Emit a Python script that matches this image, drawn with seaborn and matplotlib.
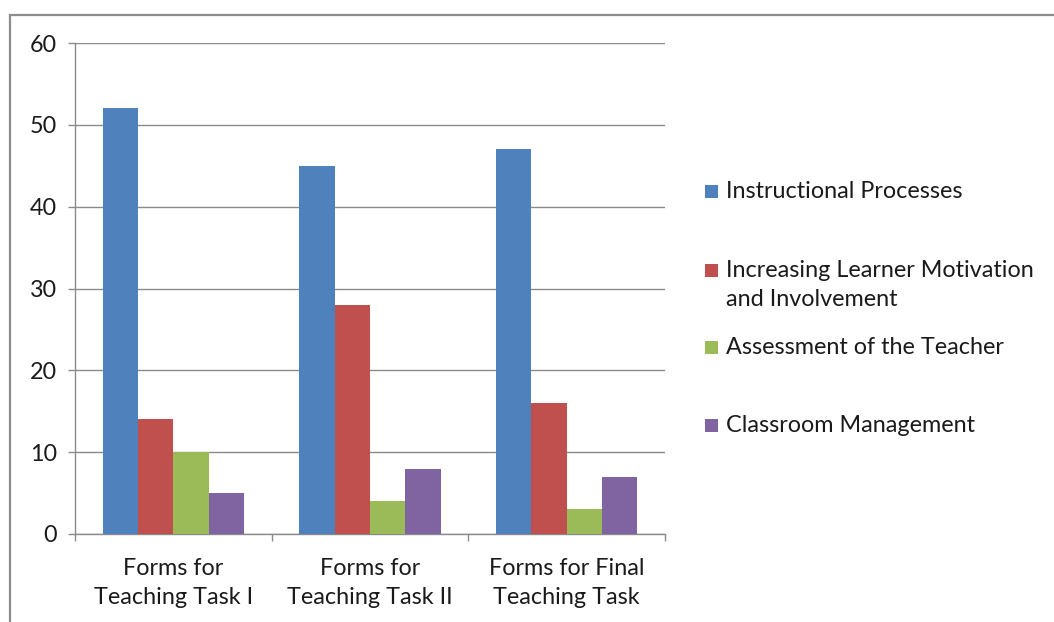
import matplotlib
matplotlib.use("Agg")
import matplotlib.pyplot as plt
from matplotlib.patches import Rectangle
import seaborn as sns
import pandas as pd

# Chart values
categories = ["Forms for\nTeaching Task I", "Forms for\nTeaching Task II", "Forms for Final\nTeaching Task"]
series = ["Instructional Processes",
          "Increasing Learner Motivation\nand Involvement",
          "Assessment of the Teacher",
          "Classroom Management"]
instructional = [52, 45, 47]
motivation = [14, 28, 16]
assessment = [10, 4, 3]
classroom = [5, 8, 7]
y_ticks = [0, 10, 20, 30, 40, 50, 60]

colors = ["#4F81BD", "#C0504D", "#9BBB59", "#8064A2"]

rows = []
for s, vals in zip(series, [instructional, motivation, assessment, classroom]):
    for c, v in zip(categories, vals):
        rows.append({"category": c, "series": s, "value": v})
df = pd.DataFrame(rows)

sns.set_theme(style="white")
plt.rcParams["font.family"] = ["Lato", "DejaVu Sans"]
text_color = "#1a1a1a"
line_color = "#8a8a8a"
fs = 16.8
ls = 1.52

W, H = 1054, 622
fig = plt.figure(figsize=(W / 100, H / 100), dpi=100)
fig.patch.set_facecolor("white")

# outer chart-area frame (left and top edges visible)
fig.patches.append(Rectangle((10 / W, -0.1), 1.2, (H - 15) / H + 0.1,
                             transform=fig.transFigure, fill=False,
                             edgecolor="#8c8c8c", linewidth=1.6, zorder=0))

ax = fig.add_axes([75 / W, (H - 534) / H, (665 - 75) / W, (534 - 43) / H])
sns.barplot(data=df, x="category", y="value", hue="series", order=categories,
            hue_order=series, palette=colors, width=0.72, gap=0,
            linewidth=0, saturation=1, legend=False, ax=ax, zorder=3)

ax.set_xlim(-0.5, 2.5)
ax.set_ylim(0, 60)
ax.set_yticks(y_ticks)
ax.set_yticklabels([str(t) for t in y_ticks])
ax.set_xlabel("")
ax.set_ylabel("")

ax.yaxis.grid(True, color=line_color, linewidth=1.0, zorder=0)
ax.set_axisbelow(True)
for side in ["top", "right"]:
    ax.spines[side].set_visible(False)
for side in ["left", "bottom"]:
    ax.spines[side].set_color(line_color)
    ax.spines[side].set_linewidth(1.0)

ax.tick_params(axis="y", direction="out", length=5, width=1.0, color=line_color,
               labelsize=fs, labelcolor=text_color, pad=8, left=True)
ax.tick_params(axis="x", which="major", length=0, labelsize=fs,
               labelcolor=text_color, pad=17)
ax.set_xticks([-0.5, 0.5, 1.5, 2.5], minor=True)
ax.tick_params(axis="x", which="minor", direction="out", length=5, width=1.0,
               color=line_color, bottom=True)
for lbl in ax.get_xticklabels():
    lbl.set_linespacing(ls)

# legend at right
legend_y = [191, 285, 347, 425]
for s, c, yy in zip(series, colors, legend_y):
    first_line_y = yy if "\n" not in s else yy - 15
    fig.patches.append(Rectangle((705 / W, (H - first_line_y - 6.5) / H), 13 / W, 13 / H,
                                 transform=fig.transFigure, facecolor=c,
                                 edgecolor="none"))
    fig.text(726 / W, (H - yy) / H, s, ha="left", va="center", fontsize=fs,
             color=text_color, linespacing=ls)

fig.savefig("out.png", dpi=100, facecolor="white")
